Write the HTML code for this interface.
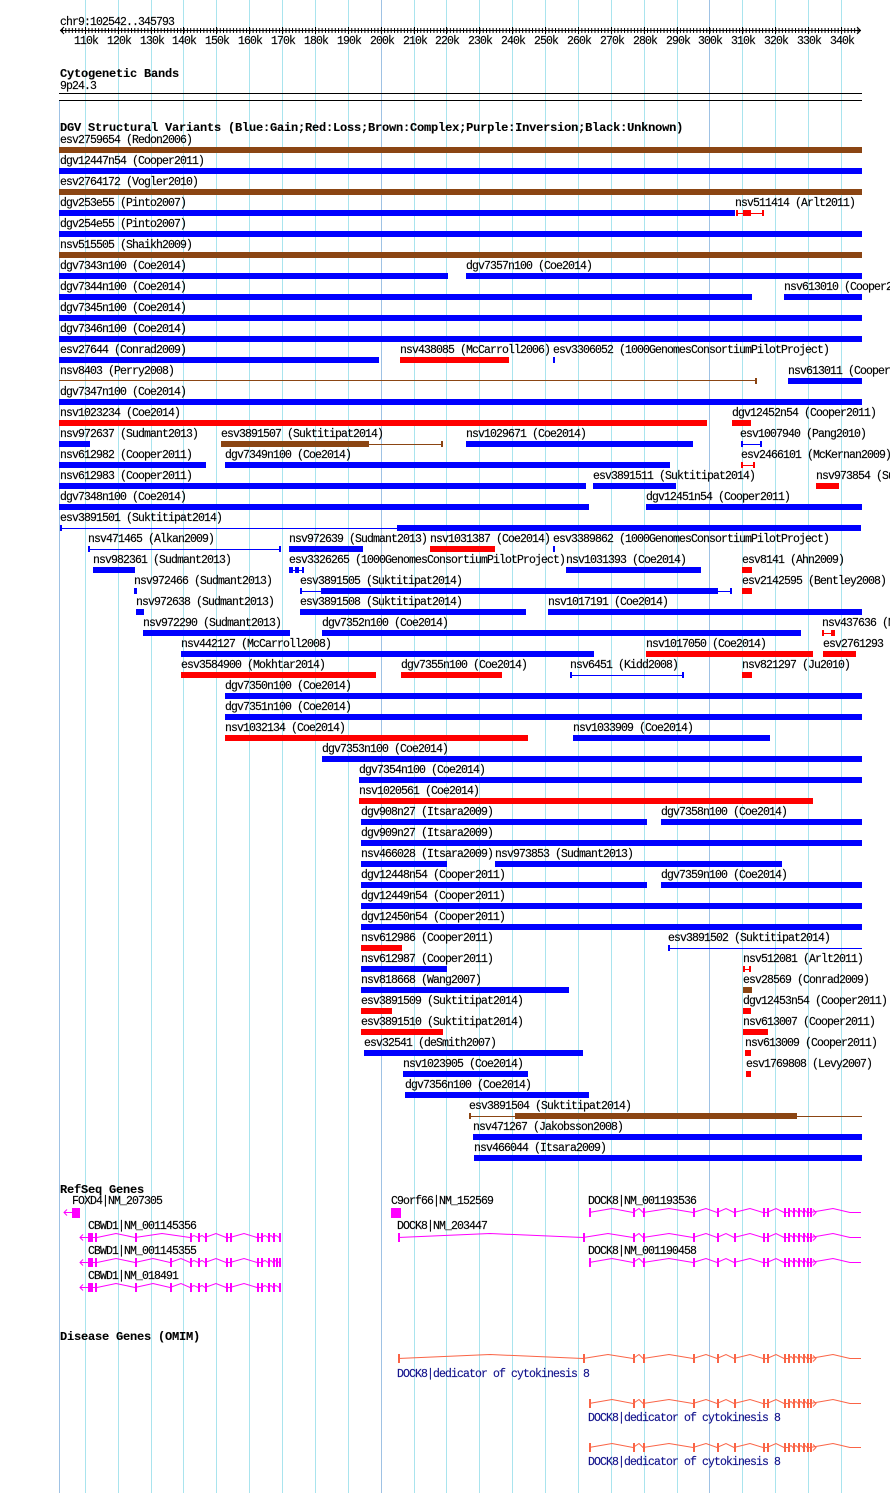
<!DOCTYPE html>
<html><head><meta charset="utf-8">
<style>
html,body{margin:0;padding:0;background:#fff;}
svg{display:block}
text{font-family:"Liberation Mono","DejaVu Sans Mono",monospace;font-size:11.5px;letter-spacing:-0.9px;fill:#000;stroke:#000;stroke-width:0.15px}
.h{font-weight:bold;font-size:12px;letter-spacing:-0.2px;stroke-width:0.1px}
.c{text-anchor:middle}
.o{fill:#14148c;stroke:#14148c}
.b{fill:#0000ff}.r{fill:#ff0000}.n{fill:#8b4513}
.g rect{fill:#a9e4ee}
</style></head><body>
<svg width="890" height="1493" xmlns="http://www.w3.org/2000/svg">
<defs>
<pattern id="mt" patternUnits="userSpaceOnUse" x="85" y="0" width="3.287" height="60"><rect x="0" y="28" width="1" height="5" fill="#000"/></pattern>
<g id="A">
<polyline fill="none" stroke="currentColor" stroke-width="1" points="589,0 612,-4 633,0 639,-4 643,0 669,-4 693,0 706,-4 717,0 726,-4 734,0 750,-4 763,0 767,0 776,-4 784,0 788,0 791,-2 793,0 796,-2 798,0 801,-2 803,0 805,-2 807,0 810,0 833,-4 850,0 861,0"/>
<polyline fill="none" stroke="currentColor" stroke-width="1" points="813,-3 816,0 813,3"/>
<g fill="currentColor">
<rect x="589" y="-4.5" width="2" height="9"/><rect x="633" y="-4.5" width="2" height="9"/><rect x="643" y="-4.5" width="2" height="9"/><rect x="693" y="-4.5" width="2" height="9"/><rect x="717" y="-4.5" width="2" height="9"/><rect x="734" y="-4.5" width="2" height="9"/><rect x="763" y="-4.5" width="2" height="9"/><rect x="767" y="-4.5" width="2" height="9"/><rect x="784" y="-4.5" width="2" height="9"/><rect x="788" y="-4.5" width="2" height="9"/><rect x="793" y="-4.5" width="2" height="9"/><rect x="798" y="-4.5" width="2" height="9"/><rect x="803" y="-4.5" width="2" height="9"/><rect x="807" y="-4.5" width="2" height="9"/><rect x="810" y="-4.5" width="2" height="9"/>
</g>
</g>
<g id="B">
<polyline fill="none" stroke="currentColor" stroke-width="1" points="398,0 490,-4 583,0 608,-4 633,0 639,-4 643,0 669,-4 693,0 706,-4 717,0 726,-4 734,0 750,-4 763,0 767,0 776,-4 784,0 788,0 791,-2 793,0 796,-2 798,0 801,-2 803,0 805,-2 807,0 810,0 833,-4 850,0 861,0"/>
<polyline fill="none" stroke="currentColor" stroke-width="1" points="813,-3 816,0 813,3"/>
<g fill="currentColor">
<rect x="398" y="-4.5" width="2" height="9"/><rect x="583" y="-4.5" width="2" height="9"/><rect x="633" y="-4.5" width="2" height="9"/><rect x="643" y="-4.5" width="2" height="9"/><rect x="693" y="-4.5" width="2" height="9"/><rect x="717" y="-4.5" width="2" height="9"/><rect x="734" y="-4.5" width="2" height="9"/><rect x="763" y="-4.5" width="2" height="9"/><rect x="767" y="-4.5" width="2" height="9"/><rect x="784" y="-4.5" width="2" height="9"/><rect x="788" y="-4.5" width="2" height="9"/><rect x="793" y="-4.5" width="2" height="9"/><rect x="798" y="-4.5" width="2" height="9"/><rect x="803" y="-4.5" width="2" height="9"/><rect x="807" y="-4.5" width="2" height="9"/><rect x="810" y="-4.5" width="2" height="9"/>
</g>
</g>
<g id="C1">
<polyline fill="none" stroke="currentColor" stroke-width="1" points="80,0 97,0 116,-4 135,0 153,-4 170,0 181,-4 190,0 194,-2 198,0 202,-2 205,0 216,-4 226,0 230,0 244,-4 257,0 261,0 265,-2 268,0 271,-2 273,0 276,-2 279,0 281,0"/>
<polyline fill="none" stroke="currentColor" stroke-width="1" points="83,-3 80,0 83,3"/>
<g fill="currentColor">
<rect x="88" y="-4.5" width="5" height="9"/><rect x="95" y="-4.5" width="2" height="9"/><rect x="135" y="-4.5" width="2" height="9"/><rect x="170" y="-4.5" width="2" height="9"/><rect x="190" y="-4.5" width="2" height="9"/><rect x="198" y="-4.5" width="2" height="9"/><rect x="205" y="-4.5" width="2" height="9"/><rect x="226" y="-4.5" width="2" height="9"/><rect x="230" y="-4.5" width="2" height="9"/><rect x="257" y="-4.5" width="2" height="9"/><rect x="261" y="-4.5" width="2" height="9"/><rect x="268" y="-4.5" width="2" height="9"/><rect x="273" y="-4.5" width="2" height="9"/><rect x="279" y="-4.5" width="2" height="9"/>
</g>
</g>
<g id="C0">
<polyline fill="none" stroke="currentColor" stroke-width="1" points="80,0 97,0 116,-4 135,0 162,-4 190,0 194,-2 198,0 202,-2 205,0 216,-4 226,0 230,0 244,-4 257,0 261,0 265,-2 268,0 271,-2 273,0 276,-2 279,0 281,0"/>
<polyline fill="none" stroke="currentColor" stroke-width="1" points="83,-3 80,0 83,3"/>
<g fill="currentColor">
<rect x="88" y="-4.5" width="5" height="9"/><rect x="95" y="-4.5" width="2" height="9"/><rect x="135" y="-4.5" width="2" height="9"/><rect x="190" y="-4.5" width="2" height="9"/><rect x="198" y="-4.5" width="2" height="9"/><rect x="205" y="-4.5" width="2" height="9"/><rect x="226" y="-4.5" width="2" height="9"/><rect x="230" y="-4.5" width="2" height="9"/><rect x="257" y="-4.5" width="2" height="9"/><rect x="261" y="-4.5" width="2" height="9"/><rect x="268" y="-4.5" width="2" height="9"/><rect x="273" y="-4.5" width="2" height="9"/><rect x="279" y="-4.5" width="2" height="9"/>
</g>
</g>
</defs>
<rect x="0" y="0" width="890" height="1493" fill="#fff"/>
<!-- grid -->
<g class="g">
<rect x="85" y="0" width="1" height="1493"/><rect x="118" y="0" width="1" height="1493"/><rect x="151" y="0" width="1" height="1493"/><rect x="183" y="0" width="1" height="1493"/><rect x="216" y="0" width="1" height="1493"/><rect x="249" y="0" width="1" height="1493"/><rect x="282" y="0" width="1" height="1493"/><rect x="315" y="0" width="1" height="1493"/><rect x="348" y="0" width="1" height="1493"/><rect x="414" y="0" width="1" height="1493"/><rect x="446" y="0" width="1" height="1493"/><rect x="479" y="0" width="1" height="1493"/><rect x="512" y="0" width="1" height="1493"/><rect x="545" y="0" width="1" height="1493"/><rect x="578" y="0" width="1" height="1493"/><rect x="611" y="0" width="1" height="1493"/><rect x="644" y="0" width="1" height="1493"/><rect x="677" y="0" width="1" height="1493"/><rect x="742" y="0" width="1" height="1493"/><rect x="775" y="0" width="1" height="1493"/><rect x="808" y="0" width="1" height="1493"/><rect x="841" y="0" width="1" height="1493"/>
</g>
<rect x="381" y="0" width="1" height="1493" fill="#9fc2e4"/>
<rect x="709" y="0" width="1" height="1493" fill="#9fc2e4"/>
<rect x="59" y="100" width="1" height="1393" fill="#9fc2e4"/>

<!-- ruler -->
<text x="60" y="25">chr9:102542..345793</text>
<rect x="60" y="30" width="801" height="1" fill="#000"/>
<rect x="62" y="28" width="797" height="5" fill="url(#mt)"/>
<polyline fill="none" stroke="#000" stroke-width="1" points="64,27 60.5,30.5 64,34"/>
<polyline fill="none" stroke="#000" stroke-width="1" points="857,27 860.5,30.5 857,34"/>
<g fill="#000">
<rect x="85" y="27" width="1" height="7"/><rect x="118" y="27" width="1" height="7"/><rect x="151" y="27" width="1" height="7"/><rect x="183" y="27" width="1" height="7"/><rect x="216" y="27" width="1" height="7"/><rect x="249" y="27" width="1" height="7"/><rect x="282" y="27" width="1" height="7"/><rect x="315" y="27" width="1" height="7"/><rect x="348" y="27" width="1" height="7"/><rect x="381" y="27" width="1" height="7"/><rect x="414" y="27" width="1" height="7"/><rect x="446" y="27" width="1" height="7"/><rect x="479" y="27" width="1" height="7"/><rect x="512" y="27" width="1" height="7"/><rect x="545" y="27" width="1" height="7"/><rect x="578" y="27" width="1" height="7"/><rect x="611" y="27" width="1" height="7"/><rect x="644" y="27" width="1" height="7"/><rect x="677" y="27" width="1" height="7"/><rect x="709" y="27" width="1" height="7"/><rect x="742" y="27" width="1" height="7"/><rect x="775" y="27" width="1" height="7"/><rect x="808" y="27" width="1" height="7"/><rect x="841" y="27" width="1" height="7"/>
</g>
<text class="c" x="86" y="44">110k</text><text class="c" x="119" y="44">120k</text><text class="c" x="152" y="44">130k</text><text class="c" x="184" y="44">140k</text><text class="c" x="217" y="44">150k</text><text class="c" x="250" y="44">160k</text><text class="c" x="283" y="44">170k</text><text class="c" x="316" y="44">180k</text><text class="c" x="349" y="44">190k</text><text class="c" x="382" y="44">200k</text><text class="c" x="415" y="44">210k</text><text class="c" x="447" y="44">220k</text><text class="c" x="480" y="44">230k</text><text class="c" x="513" y="44">240k</text><text class="c" x="546" y="44">250k</text><text class="c" x="579" y="44">260k</text><text class="c" x="612" y="44">270k</text><text class="c" x="645" y="44">280k</text><text class="c" x="678" y="44">290k</text><text class="c" x="710" y="44">300k</text><text class="c" x="743" y="44">310k</text><text class="c" x="776" y="44">320k</text><text class="c" x="809" y="44">330k</text><text class="c" x="842" y="44">340k</text>

<!-- cytoband -->
<text class="h" x="60" y="77">Cytogenetic Bands</text>
<text x="60" y="89">9p24.3</text>
<rect x="59" y="93" width="803" height="1" fill="#000"/>
<rect x="59" y="100" width="803" height="1" fill="#000"/>

<!-- DGV -->
<text class="h" x="60" y="131">DGV Structural Variants (Blue:Gain;Red:Loss;Brown:Complex;Purple:Inversion;Black:Unknown)</text>

<text x="60" y="143">esv2759654 (Redon2006)</text><rect class="n" x="59" y="147" width="803" height="6"/>
<text x="60" y="164">dgv12447n54 (Cooper2011)</text><rect class="b" x="59" y="168" width="803" height="6"/>
<text x="60" y="185">esv2764172 (Vogler2010)</text><rect class="n" x="59" y="189" width="803" height="6"/>
<text x="60" y="206">dgv253e55 (Pinto2007)</text><rect class="b" x="59" y="210" width="676" height="6"/>
<text x="735" y="206">nsv511414 (Arlt2011)</text><rect class="r" x="736" y="213" width="27" height="1"/><rect class="r" x="736" y="210" width="2" height="6"/><rect class="r" x="762" y="210" width="2" height="6"/><rect class="r" x="743" y="210" width="8" height="6"/>
<text x="60" y="227">dgv254e55 (Pinto2007)</text><rect class="b" x="59" y="231" width="803" height="6"/>
<text x="60" y="248">nsv515505 (Shaikh2009)</text><rect class="n" x="59" y="252" width="803" height="6"/>
<text x="60" y="269">dgv7343n100 (Coe2014)</text><rect class="b" x="59" y="273" width="389" height="6"/>
<text x="466" y="269">dgv7357n100 (Coe2014)</text><rect class="b" x="466" y="273" width="396" height="6"/>
<text x="60" y="290">dgv7344n100 (Coe2014)</text><rect class="b" x="59" y="294" width="693" height="6"/>
<text x="784" y="290">nsv613010 (Cooper2011)</text><rect class="b" x="784" y="294" width="78" height="6"/>
<text x="60" y="311">dgv7345n100 (Coe2014)</text><rect class="b" x="59" y="315" width="803" height="6"/>
<text x="60" y="332">dgv7346n100 (Coe2014)</text><rect class="b" x="59" y="336" width="803" height="6"/>
<text x="60" y="353">esv27644 (Conrad2009)</text><rect class="b" x="59" y="357" width="320" height="6"/>
<text x="400" y="353">nsv438085 (McCarroll2006)</text><rect class="r" x="400" y="357" width="109" height="6"/>
<text x="553" y="353">esv3306052 (1000GenomesConsortiumPilotProject)</text><rect class="b" x="553" y="357" width="2" height="6"/>
<text x="60" y="374">nsv8403 (Perry2008)</text><rect class="n" x="59" y="380" width="698" height="1"/><rect class="n" x="755" y="378" width="2" height="6"/>
<text x="788" y="374">nsv613011 (Cooper2011)</text><rect class="b" x="788" y="378" width="74" height="6"/>
<text x="60" y="395">dgv7347n100 (Coe2014)</text><rect class="b" x="59" y="399" width="803" height="6"/>
<text x="60" y="416">nsv1023234 (Coe2014)</text><rect class="r" x="59" y="420" width="648" height="6"/>
<text x="732" y="416">dgv12452n54 (Cooper2011)</text><rect class="r" x="732" y="420" width="19" height="6"/>
<text x="60" y="437">nsv972637 (Sudmant2013)</text><rect class="b" x="59" y="441" width="31" height="6"/>
<text x="221" y="437">esv3891507 (Suktitipat2014)</text><rect class="n" x="221" y="441" width="148" height="6"/><rect class="n" x="369" y="444" width="73" height="1"/><rect class="n" x="441" y="441" width="2" height="6"/>
<text x="466" y="437">nsv1029671 (Coe2014)</text><rect class="b" x="466" y="441" width="227" height="6"/>
<text x="740" y="437">esv1007940 (Pang2010)</text><rect class="b" x="741" y="444" width="21" height="1"/><rect class="b" x="741" y="441" width="2" height="6"/><rect class="b" x="760" y="441" width="2" height="6"/>
<text x="60" y="458">nsv612982 (Cooper2011)</text><rect class="b" x="59" y="462" width="147" height="6"/>
<text x="225" y="458">dgv7349n100 (Coe2014)</text><rect class="b" x="225" y="462" width="445" height="6"/>
<text x="741" y="458">esv2466101 (McKernan2009)</text><rect class="r" x="741" y="465" width="14" height="1"/><rect class="r" x="741" y="462" width="2" height="6"/><rect class="r" x="753" y="462" width="2" height="6"/>
<text x="60" y="479">nsv612983 (Cooper2011)</text><rect class="b" x="59" y="483" width="527" height="6"/>
<text x="593" y="479">esv3891511 (Suktitipat2014)</text><rect class="b" x="593" y="483" width="83" height="6"/>
<text x="816" y="479">nsv973854 (Sudmant2013)</text><rect class="r" x="816" y="483" width="23" height="6"/>
<text x="60" y="500">dgv7348n100 (Coe2014)</text><rect class="b" x="59" y="504" width="530" height="6"/>
<text x="646" y="500">dgv12451n54 (Cooper2011)</text><rect class="b" x="646" y="504" width="216" height="6"/>
<text x="60" y="521">esv3891501 (Suktitipat2014)</text><rect class="b" x="60" y="525" width="2" height="6"/><rect class="b" x="60" y="528" width="337" height="1"/><rect class="b" x="397" y="525" width="464" height="6"/>
<text x="88" y="542">nsv471465 (Alkan2009)</text><rect class="b" x="88" y="546" width="2" height="6"/><rect class="b" x="88" y="549" width="192" height="1"/><rect class="b" x="279" y="546" width="2" height="6"/>
<text x="289" y="542">nsv972639 (Sudmant2013)</text><rect class="b" x="289" y="546" width="74" height="6"/>
<text x="430" y="542">nsv1031387 (Coe2014)</text><rect class="r" x="430" y="546" width="65" height="6"/>
<text x="553" y="542">esv3389862 (1000GenomesConsortiumPilotProject)</text><rect class="b" x="553" y="546" width="2" height="6"/>
<text x="93" y="563">nsv982361 (Sudmant2013)</text><rect class="b" x="93" y="567" width="42" height="6"/>
<text x="289" y="563">esv3326265 (1000GenomesConsortiumPilotProject)</text><rect class="b" x="289" y="570" width="15" height="1"/><rect class="b" x="289" y="567" width="4" height="6"/><rect class="b" x="295" y="567" width="4" height="6"/><rect class="b" x="302" y="567" width="2" height="6"/>
<text x="566" y="563">nsv1031393 (Coe2014)</text><rect class="b" x="566" y="567" width="135" height="6"/>
<text x="742" y="563">esv8141 (Ahn2009)</text><rect class="r" x="742" y="567" width="10" height="6"/>
<text x="134" y="584">nsv972466 (Sudmant2013)</text><rect class="b" x="134" y="588" width="3" height="6"/>
<text x="300" y="584">esv3891505 (Suktitipat2014)</text><rect class="b" x="300" y="588" width="2" height="6"/><rect class="b" x="300" y="591" width="432" height="1"/><rect class="b" x="321" y="588" width="397" height="6"/><rect class="b" x="730" y="588" width="2" height="6"/>
<text x="742" y="584">esv2142595 (Bentley2008)</text><rect class="r" x="742" y="588" width="10" height="6"/>
<text x="136" y="605">nsv972638 (Sudmant2013)</text><rect class="b" x="136" y="609" width="8" height="6"/>
<text x="300" y="605">esv3891508 (Suktitipat2014)</text><rect class="b" x="300" y="609" width="226" height="6"/>
<text x="548" y="605">nsv1017191 (Coe2014)</text><rect class="b" x="548" y="609" width="314" height="6"/>
<text x="143" y="626">nsv972290 (Sudmant2013)</text><rect class="b" x="143" y="630" width="147" height="6"/>
<text x="322" y="626">dgv7352n100 (Coe2014)</text><rect class="b" x="322" y="630" width="479" height="6"/>
<text x="822" y="626">nsv437636 (McCarroll2008)</text><rect class="r" x="822" y="630" width="2" height="6"/><rect class="r" x="822" y="633" width="10" height="1"/><rect class="r" x="831" y="630" width="4" height="6"/>
<text x="181" y="647">nsv442127 (McCarroll2008)</text><rect class="b" x="181" y="651" width="413" height="6"/>
<text x="646" y="647">nsv1017050 (Coe2014)</text><rect class="r" x="646" y="651" width="167" height="6"/>
<text x="823" y="647">esv2761293 (Redon2006)</text><rect class="r" x="823" y="651" width="33" height="6"/>
<text x="181" y="668">esv3584900 (Mokhtar2014)</text><rect class="r" x="181" y="672" width="195" height="6"/>
<text x="401" y="668">dgv7355n100 (Coe2014)</text><rect class="r" x="401" y="672" width="101" height="6"/>
<text x="570" y="668">nsv6451 (Kidd2008)</text><rect class="b" x="570" y="672" width="2" height="6"/><rect class="b" x="570" y="675" width="113" height="1"/><rect class="b" x="682" y="672" width="2" height="6"/>
<text x="742" y="668">nsv821297 (Ju2010)</text><rect class="r" x="742" y="672" width="10" height="6"/>
<text x="225" y="689">dgv7350n100 (Coe2014)</text><rect class="b" x="225" y="693" width="637" height="6"/>
<text x="225" y="710">dgv7351n100 (Coe2014)</text><rect class="b" x="225" y="714" width="637" height="6"/>
<text x="225" y="731">nsv1032134 (Coe2014)</text><rect class="r" x="225" y="735" width="303" height="6"/>
<text x="573" y="731">nsv1033909 (Coe2014)</text><rect class="b" x="573" y="735" width="197" height="6"/>
<text x="322" y="752">dgv7353n100 (Coe2014)</text><rect class="b" x="322" y="756" width="540" height="6"/>
<text x="359" y="773">dgv7354n100 (Coe2014)</text><rect class="b" x="359" y="777" width="503" height="6"/>
<text x="359" y="794">nsv1020561 (Coe2014)</text><rect class="r" x="359" y="798" width="454" height="6"/>
<text x="361" y="815">dgv908n27 (Itsara2009)</text><rect class="b" x="361" y="819" width="286" height="6"/>
<text x="661" y="815">dgv7358n100 (Coe2014)</text><rect class="b" x="661" y="819" width="201" height="6"/>
<text x="361" y="836">dgv909n27 (Itsara2009)</text><rect class="b" x="361" y="840" width="501" height="6"/>
<text x="361" y="857">nsv466028 (Itsara2009)</text><rect class="b" x="361" y="861" width="86" height="6"/>
<text x="495" y="857">nsv973853 (Sudmant2013)</text><rect class="b" x="495" y="861" width="287" height="6"/>
<text x="361" y="878">dgv12448n54 (Cooper2011)</text><rect class="b" x="361" y="882" width="286" height="6"/>
<text x="661" y="878">dgv7359n100 (Coe2014)</text><rect class="b" x="661" y="882" width="201" height="6"/>
<text x="361" y="899">dgv12449n54 (Cooper2011)</text><rect class="b" x="361" y="903" width="501" height="6"/>
<text x="361" y="920">dgv12450n54 (Cooper2011)</text><rect class="b" x="361" y="924" width="501" height="6"/>
<text x="361" y="941">nsv612986 (Cooper2011)</text><rect class="r" x="361" y="945" width="41" height="6"/>
<text x="668" y="941">esv3891502 (Suktitipat2014)</text><rect class="b" x="668" y="945" width="2" height="6"/><rect class="b" x="668" y="948" width="194" height="1"/>
<text x="361" y="962">nsv612987 (Cooper2011)</text><rect class="b" x="361" y="966" width="86" height="6"/>
<text x="743" y="962">nsv512081 (Arlt2011)</text><rect class="r" x="743" y="966" width="2" height="6"/><rect class="r" x="743" y="969" width="8" height="1"/><rect class="r" x="749" y="966" width="2" height="6"/>
<text x="361" y="983">nsv818668 (Wang2007)</text><rect class="b" x="361" y="987" width="208" height="6"/>
<text x="743" y="983">esv28569 (Conrad2009)</text><rect class="n" x="743" y="987" width="9" height="6"/>
<text x="361" y="1004">esv3891509 (Suktitipat2014)</text><rect class="r" x="361" y="1008" width="31" height="6"/>
<text x="743" y="1004">dgv12453n54 (Cooper2011)</text><rect class="r" x="743" y="1008" width="8" height="6"/>
<text x="361" y="1025">esv3891510 (Suktitipat2014)</text><rect class="r" x="361" y="1029" width="82" height="6"/>
<text x="743" y="1025">nsv613007 (Cooper2011)</text><rect class="r" x="743" y="1029" width="25" height="6"/>
<text x="364" y="1046">esv32541 (deSmith2007)</text><rect class="b" x="364" y="1050" width="219" height="6"/>
<text x="745" y="1046">nsv613009 (Cooper2011)</text><rect class="r" x="745" y="1050" width="6" height="6"/>
<text x="403" y="1067">nsv1023905 (Coe2014)</text><rect class="b" x="403" y="1071" width="125" height="6"/>
<text x="746" y="1067">esv1769808 (Levy2007)</text><rect class="r" x="746" y="1071" width="5" height="6"/>
<text x="405" y="1088">dgv7356n100 (Coe2014)</text><rect class="b" x="405" y="1092" width="184" height="6"/>
<text x="469" y="1109">esv3891504 (Suktitipat2014)</text><rect class="n" x="469" y="1113" width="2" height="6"/><rect class="n" x="469" y="1116" width="393" height="1"/><rect class="n" x="515" y="1113" width="282" height="6"/>
<text x="473" y="1130">nsv471267 (Jakobsson2008)</text><rect class="b" x="473" y="1134" width="389" height="6"/>
<text x="474" y="1151">nsv466044 (Itsara2009)</text><rect class="b" x="474" y="1155" width="388" height="6"/>

<!-- RefSeq -->
<text class="h" x="60" y="1193">RefSeq Genes</text>
<text x="72" y="1204">FOXD4|NM_207305</text>
<polyline fill="none" stroke="#ff00ff" stroke-width="1" points="64,1212.5 72,1212.5"/>
<polyline fill="none" stroke="#ff00ff" stroke-width="1" points="67,1209.5 64,1212.5 67,1215.5"/>
<rect x="72" y="1208" width="8" height="10" fill="#ff00ff"/>
<text x="391" y="1204">C9orf66|NM_152569</text>
<rect x="391" y="1208" width="10" height="10" fill="#ff00ff"/>
<text x="588" y="1204">DOCK8|NM_001193536</text>
<use href="#A" transform="translate(0,1212.5)" style="color:#ff00ff"/>
<text x="88" y="1229">CBWD1|NM_001145356</text>
<use href="#C0" transform="translate(0,1237.5)" style="color:#ff00ff"/>
<text x="397" y="1229">DOCK8|NM_203447</text>
<use href="#B" transform="translate(0,1237.5)" style="color:#ff00ff"/>
<text x="88" y="1254">CBWD1|NM_001145355</text>
<use href="#C1" transform="translate(0,1262.5)" style="color:#ff00ff"/>
<rect x="276" y="1258" width="2" height="9" fill="#ff00ff"/>
<text x="588" y="1254">DOCK8|NM_001190458</text>
<use href="#A" transform="translate(0,1262.5)" style="color:#ff00ff"/>
<text x="88" y="1279">CBWD1|NM_018491</text>
<use href="#C1" transform="translate(0,1287.5)" style="color:#ff00ff"/>

<!-- OMIM -->
<text class="h" x="60" y="1340">Disease Genes (OMIM)</text>
<use href="#B" transform="translate(0,1358.5)" style="color:#fa6446"/>
<text class="o" x="397" y="1377">DOCK8|dedicator of cytokinesis 8</text>
<use href="#A" transform="translate(0,1403.5)" style="color:#fa6446"/>
<text class="o" x="588" y="1421">DOCK8|dedicator of cytokinesis 8</text>
<use href="#A" transform="translate(0,1447.5)" style="color:#fa6446"/>
<text class="o" x="588" y="1465">DOCK8|dedicator of cytokinesis 8</text>
</svg>
</body></html>
